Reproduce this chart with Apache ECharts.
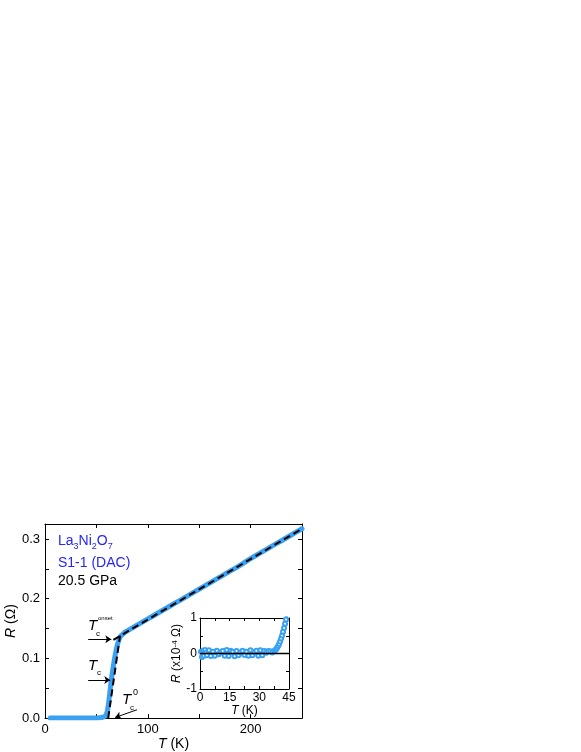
<!DOCTYPE html>
<html>
<head>
<meta charset="utf-8">
<script src="https://cdn.jsdelivr.net/npm/echarts@6/dist/echarts.min.js"></script>
<style>
html, body { margin: 0; padding: 0; background: #fff; }
#chart { width: 581px; height: 752px; }
</style>
</head>
<body>
<div id="chart"></div>
<script>
// main R(T) curve
var mainT = [5, 10, 20, 30, 40, 50, 55, 57, 59, 60, 61, 62, 63, 64, 65, 66, 67, 68, 69, 70, 71, 72, 73, 74, 76, 78, 80,
	90, 100, 110, 120, 130, 140, 150, 160, 170, 180, 190, 200, 210, 220, 230, 240, 250];
var mainR = [0, 0, 0, 0, 0, 0.0003, 0.001, 0.002, 0.004, 0.008, 0.015, 0.027, 0.042, 0.057, 0.07, 0.082, 0.093, 0.103, 0.112, 0.12, 0.126, 0.131, 0.135, 0.138, 0.141, 0.144, 0.146,
	0.156, 0.166, 0.176, 0.186, 0.196, 0.206, 0.216, 0.226, 0.236, 0.246, 0.256, 0.267, 0.277, 0.287, 0.297, 0.307, 0.317];

// dashed fits
var fitLinT = [66.5, 250];
var fitLinR = [0.131, 0.317];
var fitSteepT = [61.5, 73];
var fitSteepR = [0, 0.138];

// arrows [fromT, fromR, toT, toR]
var arrowOnset = [42, 0.132, 64.5, 0.132];
var arrowTc = [42, 0.064, 63.5, 0.064];
var arrowTc0 = [89.5, 0.014, 68.2, 0.001];

// inset, R in 1e-4 ohm
var insetT = [0.5, 1, 1.5, 2, 2.5, 3, 3.5, 4.5, 5.5, 6.5, 7.5, 8.5, 9.5, 10.5, 11.5, 12.5, 13.5, 14.5, 15.5, 16.5, 17.5, 18.5, 19.5,
	20.5, 21.5, 22.5, 23.5, 24.5, 25.5, 26.5, 27.5, 28.5, 29.5, 30.5, 31.5, 32.5, 33.5, 34.5, 35.5, 36.5, 37.5,
	38, 38.5, 39, 39.5, 40, 40.5, 41, 41.5, 42, 42.5, 43, 43.5, 44];
var insetR = [0.05, -0.1, 0.08, -0.06, 0.1, 0.02, -0.05, 0.09, -0.07, 0.05, -0.06, 0.08, -0.02, 0.04, 0.07, -0.06, 0.1, -0.07, 0.08, 0.05, -0.08, 0.07, -0.05,
	0.03, 0.08, -0.04, 0.05, -0.06, 0.09, -0.05, 0.04, 0.08, -0.06, 0.09, -0.05, 0.07, 0.02, 0.07, 0.06, 0.03, 0.07,
	0.09, 0.12, 0.16, 0.21, 0.27, 0.34, 0.42, 0.51, 0.61, 0.72, 0.84, 0.96, 1.08];
var insetZeroT = [0, 45];
var insetZeroR = [0, 0];

function pairs(xs, ys) {
	return xs.map(function(x, i) { return [x, ys[i]]; });
}
function arrow(a) {
	return [{ coord: [a[0], a[1]] }, { coord: [a[2], a[3]] }];
}

var curveBlue = '#3aa1f2';
var textBlue = '#2525f5';
var font = 'Liberation Sans, Arial, sans-serif';

var chart = echarts.init(document.getElementById('chart'));

function frameAxis(extra) {
	var base = {
		axisLine: { show: true, onZero: false, lineStyle: { color: '#000', width: 1 } },
		axisTick: { show: true, inside: true, length: 4, lineStyle: { color: '#000' } },
		splitLine: { show: false },
		axisLabel: { color: '#000', fontFamily: font, fontSize: 13 }
	};
	return Object.assign(base, extra);
}

var option = {
	animation: false,
	backgroundColor: '#fff',
	grid: [
		{ left: 45, right: 279, top: 524, bottom: 32 },
		{ left: 200, width: 89, top: 618, height: 71 }
	],
	xAxis: [
		frameAxis({
			gridIndex: 0, type: 'value', min: 0, max: 250, interval: 50,
			axisLabel: { color: '#000', fontFamily: font, fontSize: 13, margin: 5, interval: 1,
				formatter: function(v) { return v % 100 === 0 ? String(v) : ''; } },
			name: '{i|T} (K)', nameLocation: 'middle', nameGap: 17,
			nameTextStyle: { fontFamily: font, fontSize: 14, color: '#000',
				rich: { i: { fontStyle: 'italic', fontFamily: font, fontSize: 14, color: '#000' } } }
		}),
		frameAxis({ gridIndex: 0, type: 'value', position: 'top', min: 0, max: 250, interval: 50,
			axisLabel: { show: false } }),
		frameAxis({
			gridIndex: 1, type: 'value', min: 0, max: 45, interval: 7.5,
			axisTick: { show: true, inside: true, length: 3, lineStyle: { color: '#000' } },
			axisLabel: { color: '#000', fontFamily: font, fontSize: 12, margin: 3,
				formatter: function(v) { return v % 15 === 0 ? String(v) : ''; } },
			name: '{i|T} (K)', nameLocation: 'middle', nameGap: 13,
			nameTextStyle: { fontFamily: font, fontSize: 12, color: '#000',
				rich: { i: { fontStyle: 'italic', fontFamily: font, fontSize: 12, color: '#000' } } }
		}),
		frameAxis({ gridIndex: 1, type: 'value', position: 'top', min: 0, max: 45, interval: 7.5,
			axisTick: { show: true, inside: true, length: 3, lineStyle: { color: '#000' } },
			axisLabel: { show: false } })
	],
	yAxis: [
		frameAxis({
			gridIndex: 0, type: 'value', min: 0, max: 0.325, interval: 0.05,
			axisLabel: { color: '#000', fontFamily: font, fontSize: 13, margin: 5,
				formatter: function(v) { var k = Math.round(v * 100); return k % 10 === 0 ? (k / 100).toFixed(1) : ''; } },
			name: '{i|R} (Ω)', nameLocation: 'middle', nameGap: 27,
			nameTextStyle: { fontFamily: font, fontSize: 14, color: '#000',
				rich: { i: { fontStyle: 'italic', fontFamily: font, fontSize: 14, color: '#000' } } }
		}),
		frameAxis({ gridIndex: 0, type: 'value', position: 'right', min: 0, max: 0.325, interval: 0.05,
			axisLabel: { show: false } }),
		frameAxis({
			gridIndex: 1, type: 'value', min: -1, max: 1, interval: 0.5,
			axisTick: { show: true, inside: true, length: 3, lineStyle: { color: '#000' } },
			axisLabel: { color: '#000', fontFamily: font, fontSize: 12, margin: 3,
				formatter: function(v) { return v % 1 === 0 ? String(v) : ''; } },
			name: '{i|R} (x10{p|-4} Ω)', nameLocation: 'middle', nameGap: 9,
			nameTextStyle: { fontFamily: font, fontSize: 12, color: '#000', verticalAlign: 'bottom',
				rich: {
					i: { fontStyle: 'italic', fontFamily: font, fontSize: 12, color: '#000', verticalAlign: 'bottom' },
					p: { fontFamily: font, fontSize: 8, color: '#000', verticalAlign: 'top' }
				} }
		}),
		frameAxis({ gridIndex: 1, type: 'value', position: 'right', min: -1, max: 1, interval: 0.5,
			axisTick: { show: true, inside: true, length: 3, lineStyle: { color: '#000' } },
			axisLabel: { show: false } })
	],
	series: [
		{
			type: 'line', xAxisIndex: 0, yAxisIndex: 0,
			data: pairs(mainT, mainR), smooth: 0.3, showSymbol: false,
			lineStyle: { color: curveBlue, width: 5, cap: 'round', join: 'round' }, z: 2
		},
		{
			type: 'line', xAxisIndex: 0, yAxisIndex: 0,
			data: pairs(fitLinT, fitLinR), showSymbol: false,
			lineStyle: { color: '#000', width: 2, type: [7, 4] }, z: 3
		},
		{
			type: 'line', xAxisIndex: 0, yAxisIndex: 0,
			data: pairs(fitSteepT, fitSteepR), showSymbol: false,
			lineStyle: { color: '#000', width: 2, type: [7, 4] }, z: 3,
			markLine: {
				silent: true, symbol: ['none', 'arrow'], symbolSize: 6, label: { show: false },
				lineStyle: { color: '#000', width: 1, type: 'solid' },
				data: [arrow(arrowOnset), arrow(arrowTc), arrow(arrowTc0)]
			}
		},
		{
			type: 'line', xAxisIndex: 2, yAxisIndex: 2,
			data: pairs(insetT, insetR), showSymbol: true, symbol: 'emptyCircle', symbolSize: 4,
			itemStyle: { color: curveBlue, borderWidth: 1.5 }, lineStyle: { color: curveBlue, width: 3 }, z: 2
		},
		{
			type: 'line', xAxisIndex: 2, yAxisIndex: 2,
			data: pairs(insetZeroT, insetZeroR), showSymbol: false,
			lineStyle: { color: '#000', width: 1.5 }, z: 3
		}
	],
	graphic: [
		{ type: 'rect', left: 200, top: 618, shape: { width: 89, height: 71 }, style: { fill: '#fff' }, z: -1, silent: true },
		{
			type: 'text', x: 58, y: 543,
			style: {
				text: '{a|La}{b|3}{a|Ni}{b|2}{a|O}{b|7}', verticalAlign: 'middle', textVerticalAlign: 'middle',
				rich: {
					a: { fontFamily: font, fontSize: 14, fill: textBlue, color: textBlue, verticalAlign: 'bottom', padding: [0, 0, 3, 0] },
					b: { fontFamily: font, fontSize: 9, fill: textBlue, color: textBlue, verticalAlign: 'bottom' }
				}
			}
		},
		{ type: 'text', x: 58, y: 563, style: { text: 'S1-1 (DAC)', font: '14px ' + font, fill: textBlue, verticalAlign: 'middle', textVerticalAlign: 'middle' } },
		{ type: 'text', x: 58, y: 581, style: { text: '20.5 GPa', font: '14px ' + font, fill: '#000', verticalAlign: 'middle', textVerticalAlign: 'middle' } },
		// T_c^onset
		{ type: 'text', x: 88, y: 626, style: { text: 'T', font: 'italic 15px ' + font, fill: '#000', verticalAlign: 'middle', textVerticalAlign: 'middle' } },
		{ type: 'text', x: 96, y: 634, style: { text: 'c', font: '8px ' + font, fill: '#000', verticalAlign: 'middle', textVerticalAlign: 'middle' } },
		{ type: 'text', x: 98, y: 618.5, style: { text: 'onset', font: '6px ' + font, fill: '#000', verticalAlign: 'middle', textVerticalAlign: 'middle' } },
		// T_c
		{ type: 'text', x: 88, y: 666, style: { text: 'T', font: 'italic 15px ' + font, fill: '#000', verticalAlign: 'middle', textVerticalAlign: 'middle' } },
		{ type: 'text', x: 97, y: 673, style: { text: 'c', font: '8px ' + font, fill: '#000', verticalAlign: 'middle', textVerticalAlign: 'middle' } },
		// T_c^0
		{ type: 'text', x: 122, y: 700, style: { text: 'T', font: 'italic 15px ' + font, fill: '#000', verticalAlign: 'middle', textVerticalAlign: 'middle' } },
		{ type: 'text', x: 130, y: 707.5, style: { text: 'c', font: '8px ' + font, fill: '#000', verticalAlign: 'middle', textVerticalAlign: 'middle' } },
		{ type: 'text', x: 133, y: 693, style: { text: '0', font: '9px ' + font, fill: '#000', verticalAlign: 'middle', textVerticalAlign: 'middle' } }
	]
};

chart.setOption(option);
</script>
</body>
</html>
